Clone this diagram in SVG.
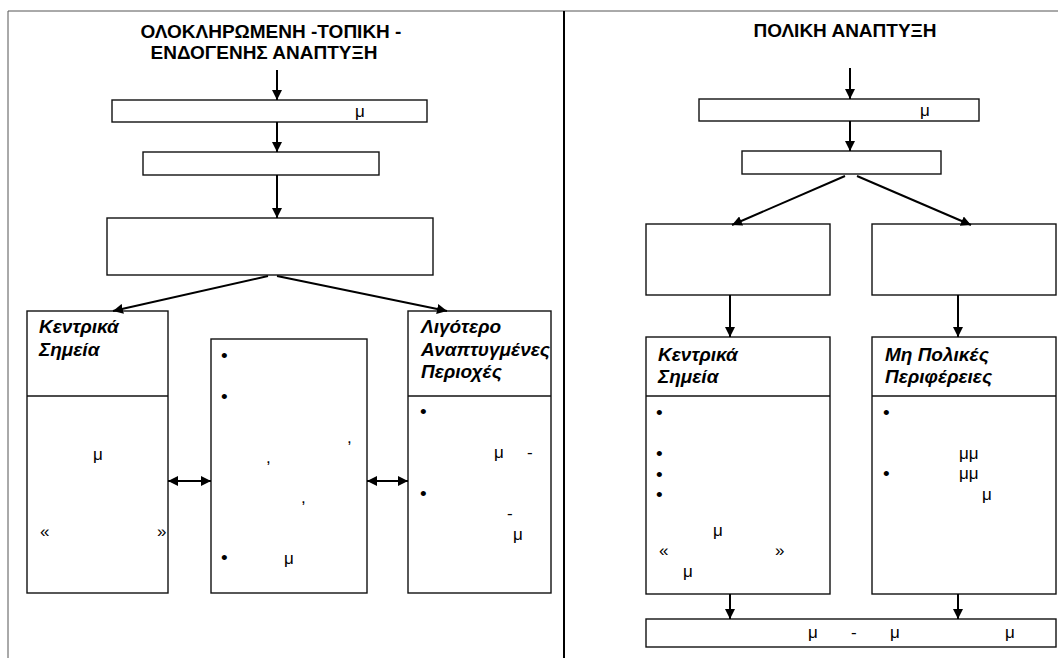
<svg xmlns="http://www.w3.org/2000/svg" width="1058" height="658" viewBox="0 0 1058 658">
<style>
.bx{fill:#fff;stroke:#111;stroke-width:1.4}
.dv{stroke:#111;stroke-width:1.4}
.frame{stroke:#555;stroke-width:1;fill:none}
.mid{stroke:#000;stroke-width:2}
.cn{stroke:#000;stroke-width:2;fill:none}
.t{font-family:"Liberation Sans",Arial,sans-serif;font-size:17px;fill:#000}
.b{font-family:"Liberation Sans",Arial,sans-serif;font-size:19px;fill:#000}
.h{font-family:"Liberation Sans",Arial,sans-serif;font-size:19px;font-weight:bold;fill:#000}
.lb{font-family:"Liberation Sans",Arial,sans-serif;font-size:19px;font-weight:bold;font-style:italic;fill:#000}
</style>
<defs>
<marker id="ah" markerUnits="userSpaceOnUse" markerWidth="10" markerHeight="10" refX="10" refY="5" orient="auto-start-reverse" viewBox="0 0 10 10">
<path d="M0,0 L10,5 L0,10 z" fill="#000"/>
</marker>
</defs>
<rect width="1058" height="658" fill="#fff"/>
<g id="frame">
<path class="frame" d="M8,658 V11 H1058"/>
<line class="mid" x1="564" y1="11" x2="564" y2="658"/>
</g>
<g id="title-left">
<text class="h" x="271" y="38" text-anchor="middle">ΟΛΟΚΛΗΡΩΜΕΝΗ -ΤΟΠΙΚΗ -</text>
<text class="h" x="264" y="59" text-anchor="middle">ΕΝΔΟΓΕΝΗΣ ΑΝΑΠΤΥΞΗ</text>
</g>
<g id="title-right">
<text class="h" x="845" y="37" text-anchor="middle">ΠΟΛΙΚΗ ΑΝΑΠΤΥΞΗ</text>
</g>
<g id="L1"><rect class="bx" x="112" y="100" width="315" height="22"/><text class="t" x="355" y="117">μ</text></g>
<g id="L2"><rect class="bx" x="143" y="152" width="236" height="23"/></g>
<g id="L3"><rect class="bx" x="107" y="218" width="326" height="57"/></g>
<g id="L4">
<rect class="bx" x="27" y="311" width="141" height="282"/>
<line class="dv" x1="27" y1="396" x2="168" y2="396"/>
<text class="lb" x="39" y="333">Κεντρικά</text>
<text class="lb" x="39" y="356">Σημεία</text>
<text class="t" x="93" y="460">μ</text>
<text class="t" x="40" y="537">«</text>
<text class="t" x="157" y="537">»</text>
</g>
<g id="L5">
<rect class="bx" x="211" y="339" width="156" height="254"/>
<text class="b" x="221" y="362">•</text>
<text class="b" x="221" y="403">•</text>
<text class="t" x="347" y="443">,</text>
<text class="t" x="266" y="463">,</text>
<text class="t" x="301" y="503">,</text>
<text class="b" x="221" y="564">•</text>
<text class="t" x="284" y="564">μ</text>
</g>
<g id="L6">
<rect class="bx" x="408" y="311" width="143" height="282"/>
<line class="dv" x1="408" y1="396" x2="551" y2="396"/>
<text class="lb" x="421" y="333">Λιγότερο</text>
<text class="lb" x="421" y="356">Αναπτυγμένες</text>
<text class="lb" x="421" y="378">Περιοχές</text>
<text class="b" x="420" y="418">•</text>
<text class="t" x="494" y="458">μ</text>
<text class="t" x="527" y="458">-</text>
<text class="b" x="420" y="500">•</text>
<text class="t" x="507" y="519">-</text>
<text class="t" x="513" y="540">μ</text>
</g>
<g id="R1"><rect class="bx" x="699" y="99" width="280" height="22"/><text class="t" x="920" y="116">μ</text></g>
<g id="R2"><rect class="bx" x="742" y="151" width="199" height="23"/></g>
<g id="R3"><rect class="bx" x="646" y="224" width="184" height="71"/></g>
<g id="R4"><rect class="bx" x="872" y="224" width="184" height="71"/></g>
<g id="R5">
<rect class="bx" x="646" y="337" width="184" height="257"/>
<line class="dv" x1="646" y1="396" x2="830" y2="396"/>
<text class="lb" x="658" y="361">Κεντρικά</text>
<text class="lb" x="658" y="383">Σημεία</text>
<text class="b" x="656" y="419">•</text>
<text class="b" x="656" y="460">•</text>
<text class="b" x="656" y="481">•</text>
<text class="b" x="656" y="501">•</text>
<text class="t" x="713" y="536">μ</text>
<text class="t" x="659" y="556">«</text>
<text class="t" x="775" y="556">»</text>
<text class="t" x="683" y="577">μ</text>
</g>
<g id="R6">
<rect class="bx" x="872" y="337" width="184" height="257"/>
<line class="dv" x1="872" y1="396" x2="1056" y2="396"/>
<text class="lb" x="885" y="361">Μη Πολικές</text>
<text class="lb" x="885" y="383">Περιφέρειες</text>
<text class="b" x="883" y="419">•</text>
<text class="t" x="959" y="459">μμ</text>
<text class="b" x="883" y="480">•</text>
<text class="t" x="959" y="479">μμ</text>
<text class="t" x="982" y="500">μ</text>
</g>
<g id="R7">
<rect class="bx" x="646" y="619" width="410" height="28"/>
<text class="t" x="808" y="638">μ</text>
<text class="t" x="851" y="638">-</text>
<text class="t" x="890" y="638">μ</text>
<text class="t" x="1005" y="638">μ</text>
</g>
<g id="connectors">
<line class="cn" x1="277" y1="70" x2="277" y2="100" marker-end="url(#ah)"/>
<line class="cn" x1="277" y1="122" x2="277" y2="152" marker-end="url(#ah)"/>
<line class="cn" x1="277" y1="175" x2="277" y2="218" marker-end="url(#ah)"/>
<line class="cn" x1="268" y1="276" x2="113" y2="311" marker-end="url(#ah)"/>
<line class="cn" x1="277" y1="276" x2="447" y2="311" marker-end="url(#ah)"/>
<line class="cn" x1="168" y1="481" x2="211" y2="481" marker-start="url(#ah)" marker-end="url(#ah)"/>
<line class="cn" x1="367" y1="481" x2="408" y2="481" marker-start="url(#ah)" marker-end="url(#ah)"/>
<line class="cn" x1="850" y1="68" x2="850" y2="99" marker-end="url(#ah)"/>
<line class="cn" x1="850" y1="121" x2="850" y2="151" marker-end="url(#ah)"/>
<line class="cn" x1="845" y1="176" x2="732" y2="225" marker-end="url(#ah)"/>
<line class="cn" x1="857" y1="176" x2="971" y2="225" marker-end="url(#ah)"/>
<line class="cn" x1="730" y1="295" x2="730" y2="337" marker-end="url(#ah)"/>
<line class="cn" x1="958" y1="295" x2="958" y2="337" marker-end="url(#ah)"/>
<line class="cn" x1="730" y1="594" x2="730" y2="619" marker-end="url(#ah)"/>
<line class="cn" x1="958" y1="594" x2="958" y2="619" marker-end="url(#ah)"/>
</g>
</svg>
